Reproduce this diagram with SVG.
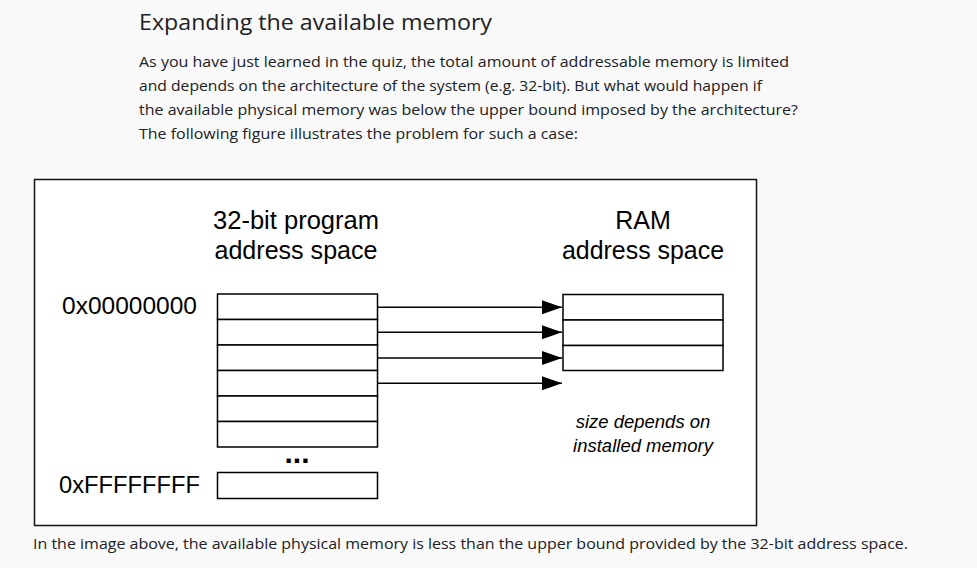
<svg xmlns="http://www.w3.org/2000/svg" width="977" height="568" viewBox="0 0 977 568">
  <defs>
    <style>
      .title{font-family:"Open Sans",Roboto,sans-serif;font-size:22px;fill:#202124}
      .body{font-family:"Open Sans","Noto Sans",sans-serif;font-size:15px;fill:#202124}
      .lbl{font-family:"Liberation Sans",Arial,sans-serif;font-size:25px;fill:#000;text-anchor:middle}
      .addr{font-family:"Liberation Sans",Arial,sans-serif;font-size:24px;fill:#000}
      .note{font-family:"Liberation Sans",Arial,sans-serif;font-size:18.5px;font-style:italic;fill:#000;text-anchor:middle}
      .cell{fill:#fff;stroke:#000;stroke-width:1.5}
      .conn{stroke:#000;stroke-width:1.5;fill:none}
    </style>
    <marker id="arr" markerUnits="userSpaceOnUse" markerWidth="22" markerHeight="16" refX="20" refY="7" orient="auto">
      <path d="M0,0 L20,7 L0,14 Z" fill="#000"/>
    </marker>
  </defs>
  <rect x="0" y="0" width="977" height="568" fill="#f9f9f9"/>

  <text class="title" x="139" y="30" textLength="353" lengthAdjust="spacingAndGlyphs">Expanding the available memory</text>
  <text class="body" x="139" y="67" textLength="650" lengthAdjust="spacingAndGlyphs">As you have just learned in the quiz, the total amount of addressable memory is limited</text>
  <text class="body" x="139" y="91" textLength="623" lengthAdjust="spacingAndGlyphs">and depends on the architecture of the system (e.g. 32-bit). But what would happen if</text>
  <text class="body" x="139" y="115" textLength="659" lengthAdjust="spacingAndGlyphs">the available physical memory was below the upper bound imposed by the architecture?</text>
  <text class="body" x="139" y="139" textLength="439" lengthAdjust="spacingAndGlyphs">The following figure illustrates the problem for such a case:</text>

  <g id="frame">
    <rect x="34.5" y="179.5" width="722" height="346" fill="#fff" stroke="#111" stroke-width="1.5"/>
  </g>

  <g id="program-label">
    <text class="lbl" x="296" y="229" textLength="166" lengthAdjust="spacingAndGlyphs">32-bit program</text>
    <text class="lbl" x="296" y="259" textLength="163" lengthAdjust="spacingAndGlyphs">address space</text>
  </g>
  <g id="ram-label">
    <text class="lbl" x="643" y="229">RAM</text>
    <text class="lbl" x="643" y="259" textLength="162" lengthAdjust="spacingAndGlyphs">address space</text>
  </g>
  <g id="addr-start"><text class="addr" x="62" y="314" textLength="135" lengthAdjust="spacingAndGlyphs">0x00000000</text></g>
  <g id="addr-end"><text class="addr" x="59" y="493" textLength="141" lengthAdjust="spacingAndGlyphs">0xFFFFFFFF</text></g>

  <g id="program-space">
    <rect class="cell" x="217.5" y="294" width="160" height="25.5"/>
    <rect class="cell" x="217.5" y="319.5" width="160" height="25.5"/>
    <rect class="cell" x="217.5" y="345" width="160" height="25.5"/>
    <rect class="cell" x="217.5" y="370.5" width="160" height="25.5"/>
    <rect class="cell" x="217.5" y="396" width="160" height="25.5"/>
    <rect class="cell" x="217.5" y="421.5" width="160" height="25.5"/>
    <text class="lbl" x="297" y="463" style="font-weight:bold;font-size:30px">...</text>
    <rect class="cell" x="217.5" y="472.5" width="160" height="26"/>
  </g>

  <g id="ram-space">
    <rect class="cell" x="563" y="294.5" width="160" height="25.5"/>
    <rect class="cell" x="563" y="320" width="160" height="25.5"/>
    <rect class="cell" x="563" y="345.5" width="160" height="25"/>
  </g>

  <g id="note">
    <text class="note" x="643" y="428">size depends on</text>
    <text class="note" x="643" y="452">installed memory</text>
  </g>

  <g id="connectors">
    <line class="conn" x1="377.5" y1="307.3" x2="562" y2="307.3" marker-end="url(#arr)"/>
    <line class="conn" x1="377.5" y1="332.3" x2="562" y2="332.3" marker-end="url(#arr)"/>
    <line class="conn" x1="377.5" y1="358" x2="562" y2="358" marker-end="url(#arr)"/>
    <line class="conn" x1="377.5" y1="383.3" x2="562" y2="383.3" marker-end="url(#arr)"/>
  </g>

  <text class="body" x="33" y="549" textLength="875" lengthAdjust="spacingAndGlyphs">In the image above, the available physical memory is less than the upper bound provided by the 32-bit address space.</text>
</svg>
